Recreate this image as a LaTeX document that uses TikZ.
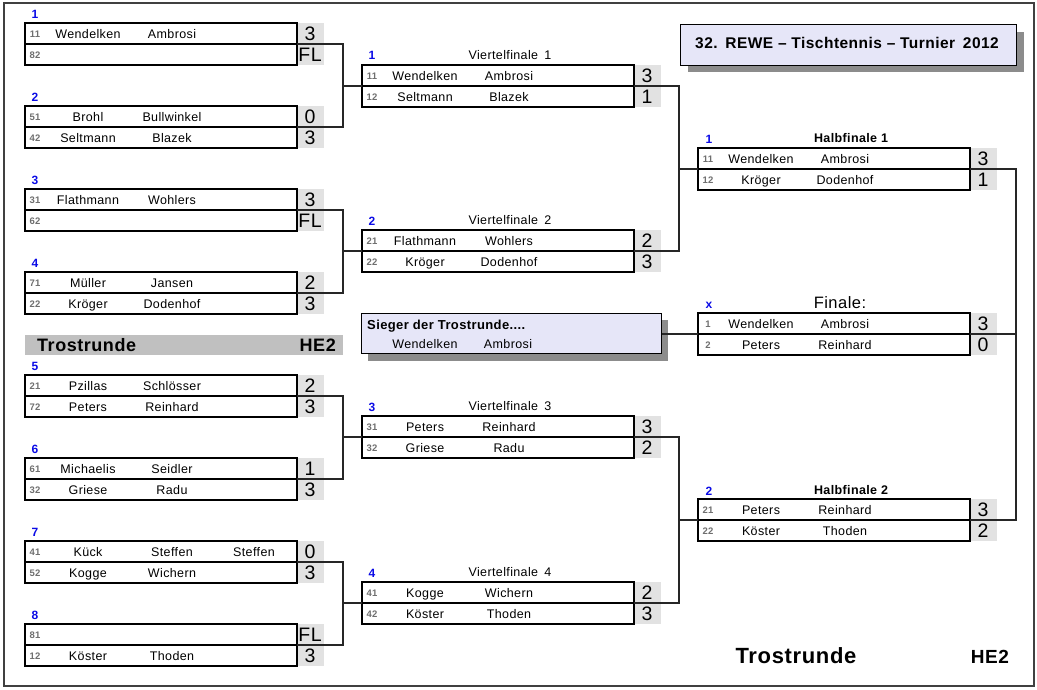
\documentclass[tikz,border=0pt]{standalone}
\usepackage{fontspec}
\setmainfont{Liberation Sans}[LetterSpace=3]
\definecolor{scoregray}{HTML}{E2E2E2}
\definecolor{lav}{HTML}{E6E6F8}
\definecolor{shadowgray}{HTML}{8C8C8C}
\definecolor{bargray}{HTML}{C0C0C0}
\definecolor{lblblue}{HTML}{0A0AE6}
\definecolor{numgray}{HTML}{6E6E6E}
\definecolor{framegray}{HTML}{404040}
\newcommand\fs[1]{\fontsize{#1}{#1}\selectfont}
\tikzset{
  rowbox/.style={draw=black, line width=1.4pt, minimum width=272pt, minimum height=21pt, inner sep=0pt, outer sep=0pt, anchor=north west},
  numtxt/.style={anchor=base, inner sep=0pt, text=numgray, font=\fs{9.5}\bfseries},
  nametxt/.style={anchor=base, inner sep=0pt, font=\fs{12.5}},
  scoretxt/.style={anchor=base, inner sep=0pt, font=\fs{19.5}},
  lbl/.style={anchor=base, inner sep=0pt, text=lblblue, font=\fs{12}\bfseries},
  vftitle/.style={anchor=base, inner sep=0pt, font=\fs{12.5}},
  hftitle/.style={anchor=base, inner sep=0pt, font=\fs{12.5}\bfseries},
  conn/.style={draw=black!85, line width=1.4pt},
  shadowbox/.style={fill=shadowgray},
}
% #1 name, #2 x, #3 ytop, #4 num, #5 first, #6 second, #7 score
\newcommand\prow[7]{%
  \fill[scoregray] (#2+272,#3) rectangle (#2+299,#3+21);
  \node[rowbox] (#1) at (#2,#3) {};
  \node[numtxt] (#1-n) at (#2+10,#3+14.5) {#4};
  \node[nametxt] (#1-f) at (#2+63,#3+15) {#5};
  \node[nametxt] (#1-s) at (#2+147,#3+15) {#6};
  \node[scoretxt] (#1-p) at (#2+285,#3+17) {#7};
}
% row without names: #1 name, #2 x, #3 ytop, #4 num, #5 score
\newcommand\frow[5]{%
  \fill[scoregray] (#2+272,#3) rectangle (#2+299,#3+21);
  \node[rowbox] (#1) at (#2,#3) {};
  \node[numtxt] (#1-n) at (#2+10,#3+14.5) {#4};
  \node[scoretxt] (#1-p) at (#2+285,#3+17) {#5};
}
\begin{document}
\begin{tikzpicture}[x=1pt,y=-1pt]
\useasboundingbox (0,0) rectangle (1037,689);
\draw[draw=framegray, line width=1.5pt] (4,3) rectangle (1034,686);

% ---------- Round 1 ----------
\node[lbl] (l1) at (35,18) {1};
\prow{m1a}{25}{23}{11}{Wendelken}{Ambrosi}{3}
\frow{m1b}{25}{44}{82}{FL}
\node[lbl] (l2) at (35,101) {2};
\prow{m2a}{25}{106}{51}{Brohl}{Bullwinkel}{0}
\prow{m2b}{25}{127}{42}{Seltmann}{Blazek}{3}
\node[lbl] (l3) at (35,184) {3};
\prow{m3a}{25}{189}{31}{Flathmann}{Wohlers}{3}
\frow{m3b}{25}{210}{62}{FL}
\node[lbl] (l4) at (35,267) {4};
\prow{m4a}{25}{272}{71}{Müller}{Jansen}{2}
\prow{m4b}{25}{293}{22}{Kröger}{Dodenhof}{3}

\node[fill=bargray, minimum width=318pt, minimum height=20pt, inner sep=0pt, anchor=north west] (tbar) at (25,335) {};
\node[anchor=base west, inner sep=0pt, font=\fs{18}\bfseries] (tbar-t) at (37,351) {Trostrunde};
\node[anchor=base east, inner sep=0pt, font=\fs{18}\bfseries] (tbar-h) at (336,351) {HE2};

\node[lbl] (l5) at (35,370) {5};
\prow{m5a}{25}{375}{21}{Pzillas}{Schlösser}{2}
\prow{m5b}{25}{396}{72}{Peters}{Reinhard}{3}
\node[lbl] (l6) at (35,453) {6};
\prow{m6a}{25}{458}{61}{Michaelis}{Seidler}{1}
\prow{m6b}{25}{479}{32}{Griese}{Radu}{3}
\node[lbl] (l7) at (35,536) {7};
\prow{m7a}{25}{541}{41}{Kück}{Steffen}{0}
\node[nametxt] (m7a-t) at (254,556) {Steffen};
\prow{m7b}{25}{562}{52}{Kogge}{Wichern}{3}
\node[lbl] (l8) at (35,619) {8};
\frow{m8a}{25}{624}{81}{FL}
\prow{m8b}{25}{645}{12}{Köster}{Thoden}{3}

% ---------- Viertelfinale ----------
\node[lbl] (v1l) at (372,59) {1};
\node[vftitle] (v1t) at (510,59) {Viertelfinale\enspace1};
\prow{vf1a}{362}{65}{11}{Wendelken}{Ambrosi}{3}
\prow{vf1b}{362}{86}{12}{Seltmann}{Blazek}{1}
\node[lbl] (v2l) at (372,225) {2};
\node[vftitle] (v2t) at (510,224) {Viertelfinale\enspace2};
\prow{vf2a}{362}{230}{21}{Flathmann}{Wohlers}{2}
\prow{vf2b}{362}{251}{22}{Kröger}{Dodenhof}{3}
\node[lbl] (v3l) at (372,411) {3};
\node[vftitle] (v3t) at (510,410) {Viertelfinale\enspace3};
\prow{vf3a}{362}{416}{31}{Peters}{Reinhard}{3}
\prow{vf3b}{362}{437}{32}{Griese}{Radu}{2}
\node[lbl] (v4l) at (372,577) {4};
\node[vftitle] (v4t) at (510,576) {Viertelfinale\enspace4};
\prow{vf4a}{362}{582}{41}{Kogge}{Wichern}{2}
\prow{vf4b}{362}{603}{42}{Köster}{Thoden}{3}

% ---------- Title ----------
\fill[shadowbox] (688,32) rectangle (1024,72);
\node[draw=black, line width=1.4pt, fill=lav, minimum width=336pt, minimum height=41pt, inner sep=0pt, anchor=north west] (title) at (680,24) {};
\node[anchor=base, inner sep=0pt, font=\fs{15.5}\bfseries] (title-t) at (847,48.5) {32.\enspace REWE -- Tischtennis -- Turnier\enspace 2012};

% ---------- Halbfinale ----------
\node[lbl] (h1l) at (709,143) {1};
\node[hftitle] (h1t) at (851,142) {Halbfinale 1};
\prow{hf1a}{698}{148}{11}{Wendelken}{Ambrosi}{3}
\prow{hf1b}{698}{169}{12}{Kröger}{Dodenhof}{1}
\node[lbl] (h2l) at (709,495) {2};
\node[hftitle] (h2t) at (851,494) {Halbfinale 2};
\prow{hf2a}{698}{499}{21}{Peters}{Reinhard}{3}
\prow{hf2b}{698}{520}{22}{Köster}{Thoden}{2}

% ---------- Finale ----------
\node[lbl] (fl) at (709,308) {x};
\node[anchor=base, inner sep=0pt, font=\fs{16.5}] (ft) at (840,308) {Finale:};
\prow{fina}{698}{313}{1}{Wendelken}{Ambrosi}{3}
\prow{finb}{698}{334}{2}{Peters}{Reinhard}{0}

% ---------- Sieger ----------
\fill[shadowbox] (368,320) rectangle (668,361);
\node[draw=black, line width=1.4pt, fill=lav, minimum width=300pt, minimum height=40pt, inner sep=0pt, anchor=north west] (sieger) at (361,313) {};
\node[anchor=base west, inner sep=0pt, font=\fs{13}\bfseries] (sieger-t) at (367,329) {Sieger der Trostrunde....};
\node[nametxt] (sieger-f) at (425,348) {Wendelken};
\node[nametxt] (sieger-s) at (508,348) {Ambrosi};

% ---------- Bottom ----------
\node[anchor=base, inner sep=0pt, font=\fs{22}\bfseries] (bt) at (796,663) {Trostrunde};
\node[anchor=base, inner sep=0pt, font=\fs{19}\bfseries] (bh) at (990,663) {HE2};

% ---------- Connectors ----------
\coordinate (j1) at (343,0);
\coordinate (j2) at (679,0);
\coordinate (j3) at (1016,0);
\draw[conn] (m1a.south east) -| (j1 |- m2a.south east) -- (m2a.south east);
\draw[conn] (j1 |- vf1a.south west) -- (vf1a.south west);
\draw[conn] (m3a.south east) -| (j1 |- m4a.south east) -- (m4a.south east);
\draw[conn] (j1 |- vf2a.south west) -- (vf2a.south west);
\draw[conn] (m5a.south east) -| (j1 |- m6a.south east) -- (m6a.south east);
\draw[conn] (j1 |- vf3a.south west) -- (vf3a.south west);
\draw[conn] (m7a.south east) -| (j1 |- m8a.south east) -- (m8a.south east);
\draw[conn] (j1 |- vf4a.south west) -- (vf4a.south west);
\draw[conn] (vf1a.south east) -| (j2 |- vf2a.south east) -- (vf2a.south east);
\draw[conn] (j2 |- hf1a.south west) -- (hf1a.south west);
\draw[conn] (vf3a.south east) -| (j2 |- vf4a.south east) -- (vf4a.south east);
\draw[conn] (j2 |- hf2a.south west) -- (hf2a.south west);
\draw[conn] (hf1a.south east) -| (j3 |- hf2a.south east) -- (hf2a.south east);
\draw[conn] (fina.south east) -- (j3 |- fina.south east);
\draw[conn] (sieger.east |- fina.south west) -- (fina.south west);
\end{tikzpicture}
\end{document}
